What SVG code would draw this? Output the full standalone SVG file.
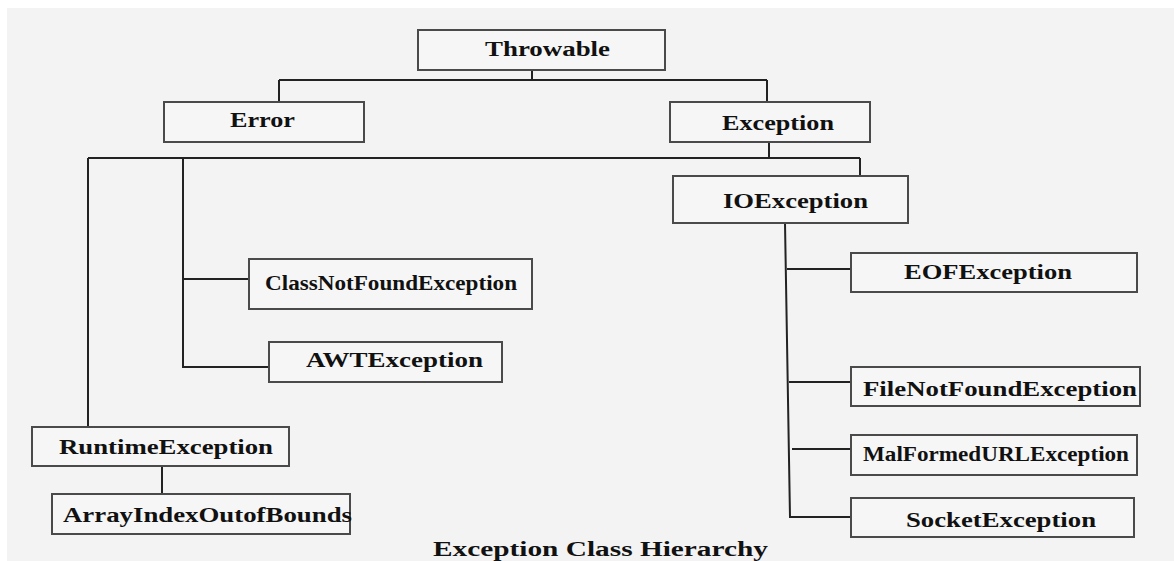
<svg xmlns="http://www.w3.org/2000/svg" width="1174" height="561" viewBox="0 0 1174 561">
<style>
.box{fill:#f6f6f6;stroke:#4a4a4a;stroke-width:2}
.lbl{font-family:"Liberation Serif","Times New Roman",serif;font-weight:bold;font-size:20px;fill:#111}
.conn{fill:none;stroke:#222;stroke-width:2}
</style>
<rect x="0" y="0" width="1174" height="561" fill="#ffffff"/>
<rect x="7" y="8" width="1167" height="553" fill="#f3f3f3"/>
<g id="connectors" class="conn">
<path d="M532,70 V80"/>
<path d="M279,80 H767"/>
<path d="M279,80 V102"/>
<path d="M767,80 V102"/>
<path d="M769,142 V158"/>
<path d="M88,158 H860"/>
<path d="M860,158 V176"/>
<path d="M88,158 V427"/>
<path d="M183,158 V367 H269"/>
<path d="M183,279 H249"/>
<path d="M162,466 V494"/>
<path d="M785,223 L790,517 H851"/>
<path d="M787,269 H851"/>
<path d="M789,382 H851"/>
<path d="M792,449 H851"/>
</g>
<g id="throwable"><rect class="box" x="418" y="30" width="247" height="40"/><text class="lbl" x="485" y="56" textLength="125" lengthAdjust="spacingAndGlyphs">Throwable</text></g>
<g id="error"><rect class="box" x="164" y="102" width="200" height="40"/><text class="lbl" x="230" y="127" textLength="65" lengthAdjust="spacingAndGlyphs">Error</text></g>
<g id="exception"><rect class="box" x="670" y="102" width="200" height="40"/><text class="lbl" x="722" y="130" textLength="112" lengthAdjust="spacingAndGlyphs">Exception</text></g>
<g id="ioexception"><rect class="box" x="673" y="176" width="235" height="47"/><text class="lbl" x="723" y="208" textLength="145" lengthAdjust="spacingAndGlyphs">IOException</text></g>
<g id="classnotfound"><rect class="box" x="249" y="259" width="283" height="50"/><text class="lbl" x="265" y="290" font-size="17.5" textLength="252" lengthAdjust="spacingAndGlyphs">ClassNotFoundException</text></g>
<g id="awtexception"><rect class="box" x="269" y="342" width="233" height="40"/><text class="lbl" x="306" y="367" textLength="177" lengthAdjust="spacingAndGlyphs">AWTException</text></g>
<g id="runtimeexception"><rect class="box" x="32" y="427" width="257" height="39"/><text class="lbl" x="59" y="454" textLength="214" lengthAdjust="spacingAndGlyphs">RuntimeException</text></g>
<g id="arrayindex"><rect class="box" x="52" y="494" width="298" height="40"/><text class="lbl" x="63" y="522" textLength="289" lengthAdjust="spacingAndGlyphs">ArrayIndexOutofBounds</text></g>
<g id="eofexception"><rect class="box" x="851" y="253" width="286" height="39"/><text class="lbl" x="904" y="279" textLength="168" lengthAdjust="spacingAndGlyphs">EOFException</text></g>
<g id="filenotfound"><rect class="box" x="851" y="367" width="289" height="39"/><text class="lbl" x="863" y="396" textLength="274" lengthAdjust="spacingAndGlyphs">FileNotFoundException</text></g>
<g id="malformedurl"><rect class="box" x="851" y="435" width="286" height="40"/><text class="lbl" x="863" y="461" font-size="17" textLength="266" lengthAdjust="spacingAndGlyphs">MalFormedURLException</text></g>
<g id="socketexception"><rect class="box" x="851" y="498" width="283" height="39"/><text class="lbl" x="906" y="527" textLength="190" lengthAdjust="spacingAndGlyphs">SocketException</text></g>
<text class="lbl" x="433" y="556" font-size="21" textLength="335" lengthAdjust="spacingAndGlyphs">Exception Class Hierarchy</text>
</svg>
